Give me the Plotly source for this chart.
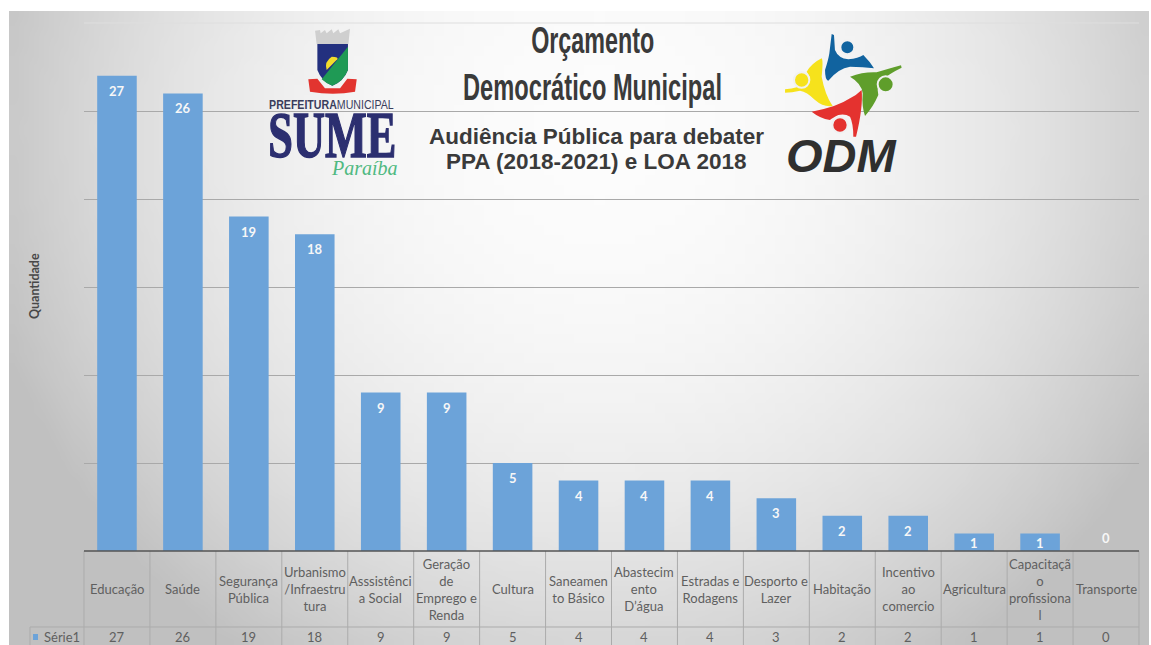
import base64, json, struct, zlib
import plotly.graph_objects as go

# ---- data ----
categories = ["Educação", "Saúde", "Segurança Pública", "Urbanismo/Infraestrutura", "Asssistência Social",
              "Geração de Emprego e Renda", "Cultura", "Saneamento Básico", "Abastecimento D’água",
              "Estradas e Rodagens", "Desporto e Lazer", "Habitação", "Incentivo ao comercio",
              "Agricultura", "Capacitação profissional", "Transporte"]
table_labels = ["Educação", "Saúde", "Segurança<br>Pública", "Urbanismo<br>/Infraestru<br>tura", "Asssistênci<br>a Social",
                "Geração<br>de<br>Emprego e<br>Renda", "Cultura", "Saneamen<br>to Básico", "Abastecim<br>ento<br>D’água",
                "Estradas e<br>Rodagens", "Desporto e<br>Lazer", "Habitação", "Incentivo<br>ao<br>comercio",
                "Agricultura", "Capacitaçã<br>o<br>profissiona<br>l", "Transporte"]
values = [27, 26, 19, 18, 9, 9, 5, 4, 4, 4, 3, 2, 2, 1, 1, 0]
series_name = "Série1"
y_title = "Quantidade"
title_lines = ["Orçamento", "Democrático Municipal"]
subtitle_lines = ["Audiência Pública para debater", "PPA (2018-2021) e LOA 2018"]

# ---- page geometry in pixels ----
W, H = 1151, 645
L, R, T, B = 84, 1139, 23, 551
BAR = "#6ca3d9"
TXT = "#5f5f5f"


def px(x):
    return (x - L) / (R - L)


def py(y):
    return (B - y) / (B - T)


def background_png():
    w, h = 114, 64
    rows = bytearray()
    for j in range(h):
        rows.append(0)
        for i in range(w):
            dx = (i / (w - 1) * 1140 + 9 - 600) / 640
            dy = (j / (h - 1) * 634 + 11 - 130) / 640
            d = min(1.0, (dx * dx + dy * dy) ** 0.5)
            g = int(round(252 - 60 * d ** 2.2))
            rows += bytes((g, g, g))

    def chunk(tag, data):
        body = tag + data
        return struct.pack(">I", len(data)) + body + struct.pack(">I", zlib.crc32(body))

    png = b"\x89PNG\r\n\x1a\n" + chunk(b"IHDR", struct.pack(">IIBBBBB", w, h, 8, 2, 0, 0, 0)) \
        + chunk(b"IDAT", zlib.compress(bytes(rows))) + chunk(b"IEND", b"")
    return "data:image/png;base64," + base64.b64encode(png).decode()


def line(x0, y0, x1, y1, color="#a9a9a9", width=1):
    return dict(type="line", xref="paper", yref="paper", x0=px(x0), x1=px(x1), y0=py(y0), y1=py(y1),
                line=dict(color=color, width=width), layer="above")


def text(x, y, s, size, color=TXT, family="Lato", **kw):
    return dict(xref="paper", yref="paper", x=px(x), y=py(y), text=s, showarrow=False,
                font=dict(size=size, color=color, family=family), xanchor=kw.pop("xanchor", "center"),
                yanchor="middle", align="center", **kw)


def blob(path, ox, oy, color, scale=3.0):
    """Decorative logo outline; numbers are zoom-crop coordinates turned into paper coordinates."""
    out, is_x = [], True
    for tok in path.replace(",", " ").split():
        if tok[0].isalpha():
            out.append(tok[0])
            tok = tok[1:]
            is_x = True
            if not tok:
                continue
        v = float(tok)
        out.append(f"{px(ox + v / scale):.4f}," if is_x else f"{py(oy + v / scale):.4f} ")
        is_x = not is_x
    return dict(type="path", xref="paper", yref="paper", path="".join(out), fillcolor=color,
                line=dict(width=0), layer="above")


def disc(cx, cy, r, ox, oy, color, scale=3.0):
    x, y = ox + cx / scale, oy + cy / scale
    q = r / scale
    return dict(type="circle", xref="paper", yref="paper", x0=px(x - q), x1=px(x + q), y0=py(y + q), y1=py(y - q),
                fillcolor=color, line=dict(width=2, color="#f1f1f1"), layer="above")


fig = go.Figure(go.Bar(x=categories, y=values, name=series_name, marker=dict(color=BAR, line=dict(width=0)),
                       width=0.6, hoverinfo="x+y"))

shapes, notes = [], []

# faint top grid line, table rules
shapes.append(line(L, T, R, T, "#dedede"))
for i in range(len(categories) + 1):
    shapes.append(line(L + (R - L) * i / len(categories), B, L + (R - L) * i / len(categories), H, "#ababab"))
shapes.append(line(30, 627, R, 627, "#ababab"))
shapes.append(line(30, 627, 30, H, "#ababab"))
shapes.append(line(L, B, R, B, "#555555", 1.5))
shapes.append(dict(type="rect", xref="paper", yref="paper", x0=px(33), x1=px(38), y0=py(640), y1=py(634),
                   fillcolor=BAR, line=dict(width=0), layer="above"))

# table text and bar labels
for c, lab, v in zip(categories, table_labels, values):
    notes.append(dict(xref="x", yref="paper", x=c, y=py(589), text=lab, showarrow=False, yanchor="middle",
                      font=dict(size=13, color=TXT, family="Lato")))
    notes.append(dict(xref="x", yref="paper", x=c, y=py(637), text=str(v), showarrow=False, yanchor="middle",
                      font=dict(size=13, color=TXT, family="Lato")))
    if v == 0:
        place = dict(yanchor="bottom", yshift=3)
    elif v == 1:
        place = dict(yanchor="top", yshift=0)
    else:
        place = dict(yanchor="top", yshift=-5)
    notes.append(dict(xref="x", yref="y", x=c, y=v, text=f"<b>{v}</b>", showarrow=False,
                      font=dict(size=13, color="#f7f7f7", family="Lato"), **place))
notes.append(text(62, 637, series_name, 13))
notes.append(text(34, 286, f"<b>{y_title}</b>", 12.5, "#484848", textangle=-90))

# header texts
notes.append(text(592, 40, f"<b>{title_lines[0]}</b>", 37, "#3a3a3a", "Liberation Sans"))
notes.append(text(592, 87, f"<b>{title_lines[1]}</b>", 37, "#3a3a3a", "Liberation Sans"))
notes.append(text(596, 136, f"<b>{subtitle_lines[0]}</b>", 22.5, "#3a3a3a", "Liberation Sans"))
notes.append(text(596, 161, f"<b>{subtitle_lines[1]}</b>", 22.5, "#3a3a3a", "Liberation Sans"))

# municipal logo
logo_top = "<b>PREFEITURA</b>MUNICIPAL"
notes.append(text(331, 105, logo_top, 13.5, "#3a3d5c", "Liberation Sans"))
notes.append(text(332, 134, "<b>SUME</b>", 66, "#2c2f70", "Liberation Serif"))
notes.append(text(364, 168, "<i>Paraíba</i>", 20, "#4fb981", "Liberation Serif"))
ox, oy = 260, 20
shapes += [
    blob("M165,32 L180,30 L182,40 L195,30 L200,40 L215,28 L220,40 L235,28 L240,40 L270,26 L265,72 L170,72 Z", ox, oy, "#cfcfcf"),
    blob("M172,72 L264,72 L264,150 Q250,185 217,197 Q185,185 172,150 Z", ox, oy, "#23307f"),
    blob("M264,80 L264,150 Q250,185 217,197 Q200,192 185,178 Z", ox, oy, "#1f9a55"),
    blob("M215,110 Q237,110 232,118 L200,150 Q192,125 215,110 Z", ox, oy, "#f2dc2c"),
    blob("M145,178 L172,176 L195,205 L240,205 L262,176 L290,178 L285,215 Q220,228 150,215 Z", ox, oy, "#e2342f"),
]
# ODM logo
ox, oy = 770, 20
shapes += [
    blob("M185,42 L192,45 L195,90 Q205,115 235,118 Q265,115 280,105 Q300,125 312,145 Q280,140 240,140 "
         "Q205,145 175,182 Q165,180 165,150 Q175,120 178,100 Z", ox, oy, "#11639f"),
    disc(232, 82, 21, ox, oy, "#11639f"),
    blob("M240,170 Q280,155 320,157 Q360,145 393,136 L395,143 Q360,160 335,180 Q318,195 325,225 "
         "Q310,260 285,288 Q275,260 278,220 Q275,190 240,170 Z", ox, oy, "#5f9e2b"),
    disc(347, 193, 24, ox, oy, "#5f9e2b"),
    blob("M125,275 Q200,262 240,235 Q260,225 275,210 Q280,260 258,350 L250,350 Q250,310 240,290 "
         "Q225,280 205,285 Q185,295 180,300 Q150,295 125,275 Z", ox, oy, "#e4322f"),
    disc(210, 315, 23, ox, oy, "#e4322f"),
    blob("M155,115 Q160,120 155,170 Q165,225 188,258 Q160,262 135,240 Q110,215 90,212 Q65,218 45,218 "
         "L45,208 Q85,205 118,185 Q125,175 110,155 Q125,130 155,115 Z", ox, oy, "#f6e21c"),
    disc(95, 180, 23, ox, oy, "#f6e21c"),
]
notes.append(text(841, 155, "<b><i>ODM</i></b>", 47, "#2f2f2f", "Liberation Sans"))

fig.update_layout(
    width=W, height=H, margin=dict(l=L, r=W - R, t=T, b=H - B, pad=0),
    paper_bgcolor="white", plot_bgcolor="rgba(0,0,0,0)", showlegend=False, bargap=0.4,
    xaxis=dict(type="category", categoryorder="array", categoryarray=categories, showticklabels=False,
               showgrid=False, zeroline=False, showline=False, ticks=""),
    yaxis=dict(range=[0, 30], tickvals=[5, 10, 15, 20, 25], showticklabels=False, gridcolor="#a9a9a9", gridwidth=1,
               zeroline=False, showline=False, ticks=""),
    shapes=shapes, annotations=notes,
    images=[dict(source=background_png(), xref="paper", yref="paper", x=px(9), y=py(11),
                 sizex=px(1149) - px(9), sizey=py(11) - py(645), sizing="stretch", layer="below",
                 xanchor="left", yanchor="top")],
)

# Target widths (px) for header lettering, which is condensed in the reference.
fit_widths = {title_lines[0]: 123, title_lines[1]: 259, "PREFEITURAMUNICIPAL": 125, "SUME": 128}
script = """
document.body.style.margin='0';document.body.style.overflow='hidden';
var fit=%s;
function squeeze(){document.querySelectorAll('.annotation-text').forEach(function(t){
  var w=fit[t.textContent]; if(!w) return;
  var s=w/t.getBBox().width;
  t.style.transformBox='fill-box';t.style.transformOrigin='center';t.style.transform='scaleX('+s+')';
  if(t.textContent==='SUME'){t.style.stroke='#2c2f70';t.style.strokeWidth='1.5px';}
});}
squeeze();setTimeout(squeeze,50);
""" % json.dumps(fit_widths, ensure_ascii=False)
fig.write_html("out.html", config=dict(displayModeBar=False), post_script=script)
